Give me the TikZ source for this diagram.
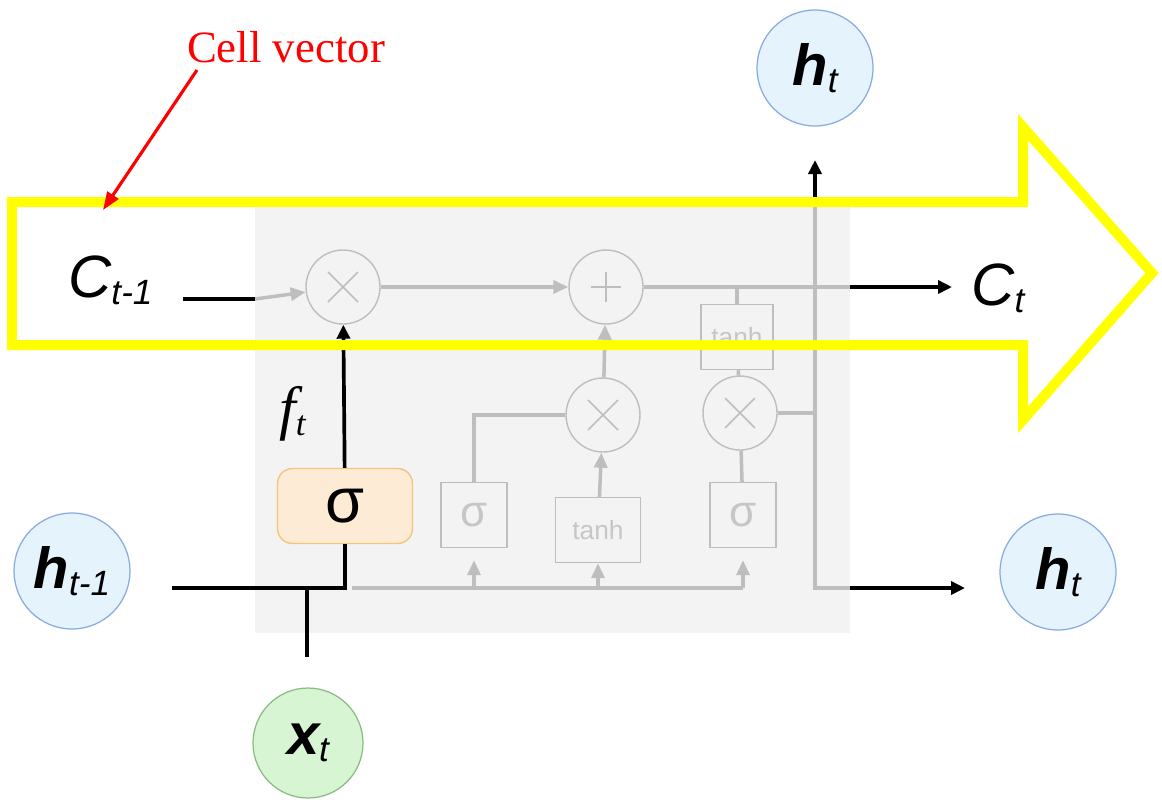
\documentclass[tikz,border=0pt]{standalone}
\usepackage{fontspec}
\setmainfont{Liberation Serif}
\setsansfont{Liberation Sans}
\usetikzlibrary{arrows.meta}
\definecolor{fadeline}{HTML}{BEBEBE}
\definecolor{fadetext}{HTML}{C6C6C6}
\definecolor{cellbg}{HTML}{F3F3F3}
\definecolor{hilite}{HTML}{FFFF00}
\definecolor{gatefill}{HTML}{FDEBD6}
\definecolor{gatedraw}{HTML}{F2C57C}
\definecolor{hfill}{HTML}{E5F3FD}
\definecolor{hdraw}{HTML}{88AADF}
\definecolor{xfill}{HTML}{D7F4D3}
\definecolor{xdraw}{HTML}{88BC80}
\newcommand{\lstmsub}[1]{\raisebox{-0.12em}{\fontsize{20}{20}\selectfont\mdseries#1}}
\begin{document}
\begin{tikzpicture}[x=0.02cm, y=-0.02cm,
hstate/.style={circle, draw=hdraw, fill=hfill, line width=0.7pt, minimum size=2.32cm,
inner sep=0pt, font=\sffamily\itshape\fontsize{33}{33}\selectfont},
xstate/.style={hstate, draw=xdraw, fill=xfill, minimum size=2.2cm},
cellvar/.style={anchor=base west, inner sep=0pt, font=\sffamily\itshape\fontsize{34}{34}\selectfont},
op/.style={circle, draw=fadeline, line width=0.8pt, minimum size=1.48cm, inner sep=0pt},
mult/.style={op, path picture={
\draw[fadeline, line width=0.9pt]
([shift={(-0.3cm,-0.3cm)}]path picture bounding box.center) -- ([shift={(0.3cm,0.3cm)}]path picture bounding box.center)
([shift={(-0.3cm,0.3cm)}]path picture bounding box.center) -- ([shift={(0.3cm,-0.3cm)}]path picture bounding box.center);}},
sum/.style={op, path picture={
\draw[fadeline, line width=0.9pt]
([shift={(-0.3cm,0cm)}]path picture bounding box.center) -- ([shift={(0.3cm,0cm)}]path picture bounding box.center)
([shift={(0cm,0.3cm)}]path picture bounding box.center) -- ([shift={(0cm,-0.3cm)}]path picture bounding box.center);}},
fadebox/.style={draw=fadeline, line width=0.8pt, minimum width=1.32cm, minimum height=1.3cm,
inner sep=0pt, text=fadetext, font=\sffamily\fontsize{25}{25}\selectfont},
widebox/.style={fadebox, minimum width=1.7cm, font=\sffamily\fontsize{15}{15}\selectfont},
gate/.style={draw=gatedraw, fill=gatefill, line width=0.8pt, rounded corners=0.3cm,
minimum width=2.7cm, minimum height=1.5cm, font=\sffamily\fontsize{36}{36}\selectfont},
wire/.style={line width=2.1pt},
flow/.style={wire, -{Triangle[length=0.28cm, width=0.26cm]}},
fwire/.style={fadeline, line width=2pt},
fflow/.style={fwire, -{Triangle[length=0.3cm, width=0.26cm]}},
note/.style={red, line width=1.8pt, -{Triangle[length=0.36cm, width=0.26cm]}}
]
\useasboundingbox (0,0) rectangle (1162,799);
\fill[cellbg] (255,205) rectangle (850,633);

\node[mult] (forget) at (343,287) {};
\node[sum] (add) at (606,287) {};
\node[mult] (inmul) at (603,415) {};
\node[mult] (outmul) at (740,413) {};
\node[widebox, minimum width=1.44cm] (tanhc) at (737,337) {tanh};
\node[fadebox] (sigi) at (474,515) {σ};
\node[widebox] (tanhg) at (598,530) {tanh};
\node[fadebox] (sigo) at (743,515) {σ};
\node[gate] (sigf) at (345,506) {σ};
\node[anchor=base west, inner sep=0pt, font=\rmfamily\itshape\fontsize{34}{34}\selectfont] (ft) at (279,428) {f\lstmsub{t}};

\node[cellvar] (cprev) at (68,297) {C\lstmsub{t-1}};
\node[cellvar] (cnext) at (971,305) {C\lstmsub{t}};
\node[hstate] (hprev) at (72,571) {\textbf{h}\lstmsub{t-1}};
\node[hstate] (hup) at (815,68) {\textbf{h}\lstmsub{t}};
\node[hstate] (hnext) at (1058,572) {\textbf{h}\lstmsub{t}};
\node[xstate] (xin) at (308,743) {\textbf{x}\lstmsub{t}};
\node[text=red, font=\rmfamily\fontsize{25.5}{25.5}\selectfont] (cellnote) at (286,47) {Cell vector};

\coordinate (cin) at (183,299);
\coordinate (cgate) at (255,299);
\coordinate (cout) at (850,287);
\coordinate (cend) at (952,287);
\coordinate (htop) at (815,205);
\coordinate (hcap) at (815,160);
\coordinate (hbot) at (815,588);
\coordinate (hright) at (850,588);
\coordinate (hend) at (965,588);
\coordinate (hin) at (172,588);
\coordinate (hjoin) at (345,588);
\coordinate (xjoin) at (307,588);
\coordinate (xend) at (307,657);
\coordinate (bus) at (352,588);
\coordinate (notefrom) at (197,70);
\coordinate (noteto) at (103,210);

\draw[fflow] (cgate) -- (forget);
\draw[fflow] (forget) -- (add);
\draw[fwire] (add) -- (cout);
\draw[fwire] (bus) -- (sigo.south |- bus);
\draw[fflow, shorten >=0.24cm] (sigi.south |- bus) -- (sigi);
\draw[fflow] (tanhg.south |- bus) -- (tanhg);
\draw[fflow, shorten >=0.24cm] (sigo.south |- bus) -- (sigo);
\draw[fwire] (sigi) |- (inmul);
\draw[fflow] (tanhg) -- (inmul);
\draw[fflow] (inmul) -- (add);
\draw[fwire] (sigo) -- (outmul);
\draw[fwire] (outmul) -- (tanhc);
\draw[fwire] (tanhc) -- (tanhc |- add);
\draw[fwire] (outmul) -- (outmul -| htop);
\draw[fwire] (htop) -- (hbot) -- (hright);

\draw[wire] (cin) -- (cgate);
\draw[flow] (cout) -- (cend);
\draw[flow] (htop) -- (hcap);
\draw[flow] (hright) -- (hend);
\draw[wire] (hin) -- (hjoin) -- (sigf);
\draw[wire] (xjoin) -- (xend);
\draw[flow] (sigf) -- (forget);

\draw[hilite, line width=0.2cm, line join=miter] (12,202) -- (1023,202) -- (1023,127) -- (1152,273)
-- (1023,420) -- (1023,345) -- (12,345) -- cycle;
\draw[note] (notefrom) -- (noteto);
\end{tikzpicture}
\end{document}
